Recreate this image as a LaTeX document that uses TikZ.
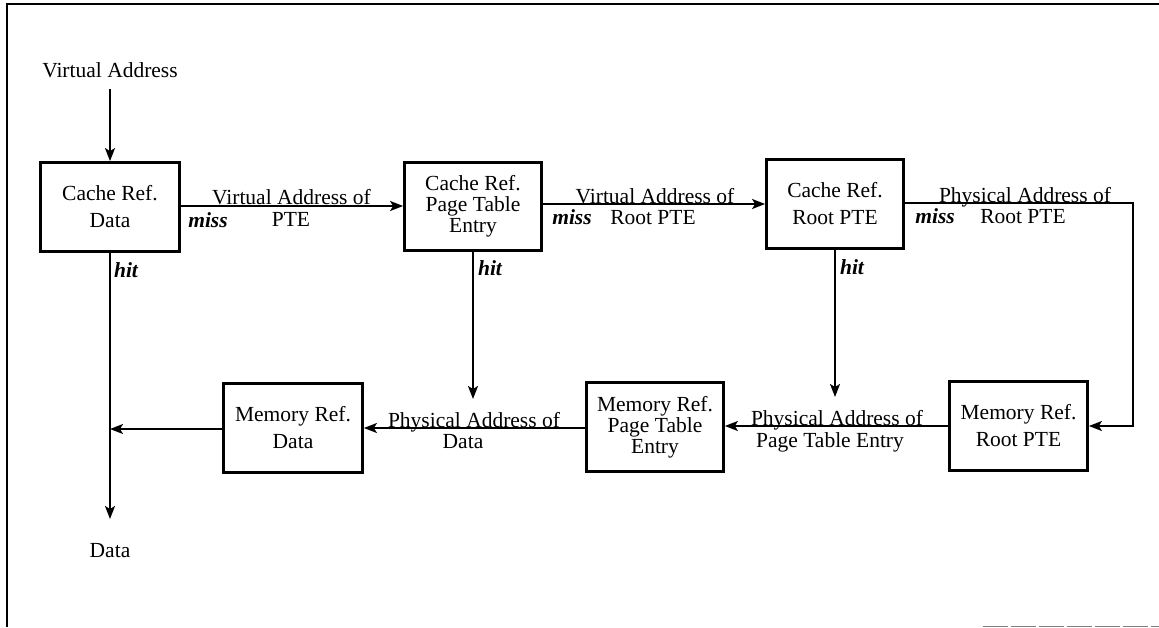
\documentclass[tikz,border=0pt]{standalone}
\usepackage{fontspec}
\setmainfont{Liberation Serif}
\usetikzlibrary{arrows.meta}
\begin{document}
\begin{tikzpicture}[x=1pt,y=-1pt,
  box/.style={draw, line width=2.8pt, minimum width=138pt, minimum height=89pt,
    inner sep=0pt, align=center, font=\fontsize{21.5}{27}\selectfont},
  tallbox/.style={box, font=\fontsize{21.5}{21}\selectfont},
  lbl/.style={anchor=base, inner sep=0pt, font=\fontsize{21.5}{25}\selectfont},
  tag/.style={anchor=base, inner sep=0pt, font=\fontsize{21.5}{25}\selectfont\bfseries\itshape},
  flow/.style={line width=1.8pt, -{Stealth[length=13pt,width=10pt,inset=3pt]}}]
\useasboundingbox (0,0) rectangle (1159,627);

% frame
\draw[line width=2pt] (7,627) -- (7,4) -- (1159,4);
\draw[gray, line width=0.8pt, dash pattern=on 25pt off 3pt] (983,626) -- (1159,626);

% cache references (top row)
\node[box, minimum width=139pt] (crd) at (110,207) {Cache Ref.\\Data};
\node[tallbox, minimum width=137pt, minimum height=88pt] (crp) at (473,206.5) {Cache Ref.\\Page Table\\Entry};
\node[box, minimum width=137pt] (crr) at (835,204) {Cache Ref.\\Root PTE};

% memory references (bottom row)
\node[box, minimum width=139pt] (mrd) at (293,428) {Memory Ref.\\Data};
\node[tallbox, minimum width=137pt] (mrp) at (655,427) {Memory Ref.\\Page Table\\Entry};
\node[box] (mrr) at (1018.5,426) {Memory Ref.\\Root PTE};

% input and output
\node[lbl] (vin) at (110,77) {Virtual Address};
\coordinate (vtop) at (110,89);
\node[lbl] (dout) at (110,557) {Data};
\coordinate (dend) at (110,519);

\draw[flow] (vtop) -- (crd.north);
\draw[flow] (crd.south) -- (dend);

% misses along the top row
\draw[flow] (crd.east |- 0,206) -- (crp.west |- 0,206);
\draw[flow] (crp.east |- 0,204) -- (crr.west |- 0,204);
\coordinate (rc1) at (1133,203);
\coordinate (rc2) at (1133,426);
\draw[flow] (crr.east |- rc1) -- (rc1) -- (rc2) -- (mrr.east);

% hits feeding the physical address lines
\coordinate (h2) at (473,399);
\coordinate (h3) at (835,397);
\draw[flow] (crp.south) -- (h2);
\draw[flow] (crr.south) -- (h3);

% memory chain (bottom row)
\draw[flow] (mrr.west) -- (mrr.west -| mrp.east);
\draw[flow] (mrp.west |- 0,428) -- (mrd.east |- 0,428);
\draw[flow] (mrd.west |- 0,429) -- (crd.south |- 0,429);

% connector labels
\node[lbl] (l1a) at (291.5,204) {Virtual Address of};
\node[lbl] (l1b) at (291,226) {PTE};
\node[tag] (m1) at (208,227) {miss};
\node[lbl] (l2a) at (655,203) {Virtual Address of};
\node[lbl] (l2b) at (653,224.5) {Root PTE};
\node[tag] (m2) at (572,224) {miss};
\node[lbl] (l3a) at (1025,202) {Physical Address of};
\node[lbl] (l3b) at (1023,223) {Root PTE};
\node[tag] (m3) at (935,223) {miss};
\node[tag] (t1) at (126,277) {hit};
\node[tag] (t2) at (490,275) {hit};
\node[tag] (t3) at (852,274) {hit};
\node[lbl] (l4a) at (837,425) {Physical Address of};
\node[lbl] (l4b) at (830,447) {Page Table Entry};
\node[lbl] (l5a) at (474,427) {Physical Address of};
\node[lbl] (l5b) at (463,448) {Data};
\end{tikzpicture}
\end{document}
